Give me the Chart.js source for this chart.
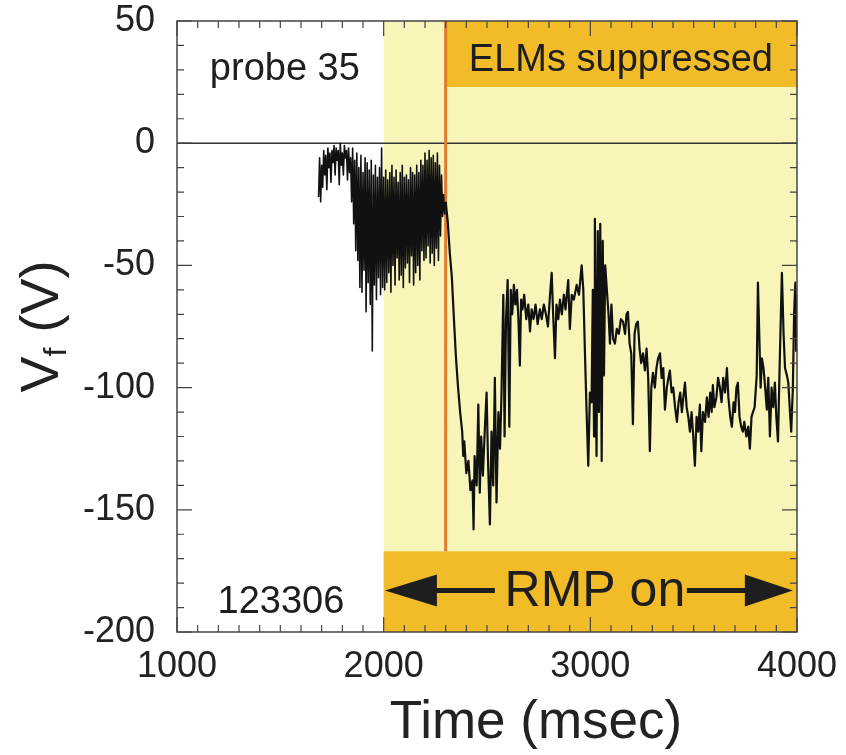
<!DOCTYPE html>
<html>
<head>
<meta charset="utf-8">
<script src="https://cdn.jsdelivr.net/npm/chart.js@4/dist/chart.umd.min.js"></script>
<style>
  body { margin: 0; background: #fff; }
  canvas { display: block; }
</style>
</head>
<body>
<canvas id="vfChart" width="846" height="755"></canvas>
<script>
// Floating potential of probe 35, shot 123306
const times = [
  1685, 1690, 1695, 1700, 1705, 1710, 1715, 1720, 1725, 1730, 1735, 1740, 1745, 1750, 1755, 1760,
  1765, 1770, 1775, 1780, 1785, 1790, 1795, 1800, 1805, 1810, 1815, 1820, 1825, 1830, 1835, 1840,
  1845, 1850, 1855, 1860, 1865, 1870, 1875, 1880, 1885, 1890, 1895, 1900, 1905, 1910, 1915, 1920,
  1925, 1930, 1935, 1940, 1945, 1950, 1955, 1960, 1965, 1970, 1975, 1980, 1985, 1990, 1995, 2000,
  2005, 2010, 2015, 2020, 2025, 2030, 2035, 2040, 2045, 2050, 2055, 2060, 2065, 2070, 2075, 2080,
  2085, 2090, 2095, 2100, 2105, 2110, 2115, 2120, 2125, 2130, 2135, 2140, 2145, 2150, 2155, 2160,
  2165, 2170, 2175, 2180, 2185, 2190, 2195, 2200, 2205, 2210, 2215, 2220, 2225, 2230, 2235, 2240,
  2245, 2250, 2255, 2260, 2265, 2270, 2275, 2280, 2285, 2290, 2295, 2300,
  2310, 2320, 2330, 2340, 2350, 2360, 2370, 2380, 2385, 2390, 2400, 2410, 2420, 2430, 2435, 2440,
  2450, 2458, 2465, 2472, 2480, 2490, 2498, 2505, 2514, 2522, 2530, 2538, 2546, 2555, 2563, 2570,
  2579, 2585, 2592, 2600, 2608, 2615, 2622, 2630, 2637, 2645, 2652, 2659, 2665, 2672, 2680, 2690,
  2700, 2708, 2716, 2725, 2735, 2745, 2756, 2765, 2775, 2785, 2795, 2805, 2813, 2820, 2829, 2836,
  2845, 2853, 2862, 2872, 2880, 2893, 2901, 2910, 2920, 2934, 2945, 2958, 2966, 2974, 2982, 2990,
  2998, 3006, 3012, 3018, 3022, 3030, 3036, 3042, 3048, 3055, 3060, 3066, 3072, 3080, 3088, 3095,
  3102, 3110, 3119, 3128, 3138, 3148, 3158, 3168, 3175, 3182, 3190, 3198, 3206, 3214, 3222, 3230,
  3238, 3246, 3255, 3264, 3272, 3280, 3288, 3295, 3303, 3312, 3320, 3328, 3337, 3345, 3353, 3361,
  3370, 3378, 3385, 3393, 3401, 3410, 3419, 3427, 3435, 3443, 3450, 3458, 3466, 3474, 3482, 3490,
  3498, 3506, 3514, 3522, 3530, 3537, 3545, 3555, 3564, 3572, 3580, 3587, 3593, 3600, 3610, 3618,
  3627, 3635, 3643, 3652, 3661, 3668, 3677, 3685, 3693, 3700, 3707, 3714, 3722, 3730, 3738, 3745,
  3755, 3764, 3772, 3780, 3787, 3795, 3805, 3811, 3818, 3824, 3830, 3838, 3846, 3854, 3861, 3869,
  3877, 3885, 3893, 3900, 3908, 3915, 3922, 3927, 3935, 3942, 3951, 3958, 3966, 3972, 3980, 3986,
  3992, 3996, 4000
];
const vf = [
  -22, -6, -24, -9, -18, -3, -13, -5, -19, -2, -10, -4, -16, -3, -8, -1,
  -13, -2, -7, -3, -17, 0, -9, -4, -13, -1, -6, -3, -15, -2, -12, -6,
  -24, -2, -33, -7, -44, -4, -48, -10, -59, -5, -61, -12, -52, -6, -69, -8,
  -57, -11, -66, -7, -85, -13, -58, -9, -64, -14, -55, -10, -62, -2, -59, -14,
  -60, -11, -57, -15, -53, -12, -61, -9, -50, -14, -58, -11, -47, -16, -56, -12,
  -54, -9, -59, -14, -51, -13, -49, -15, -57, -10, -46, -12, -58, -13, -53, -9,
  -50, -12, -56, -7, -44, -9, -48, -4, -47, -7, -42, -3, -49, -6, -45, -5,
  -50, -8, -43, -4, -48, -9, -38, -13, -30, -21, -29, -24,
  -32, -45, -55, -72, -88, -100, -110, -118, -128, -122, -135, -130, -142, -138, -158, -128,
  -140, -107, -143, -120, -136, -116, -102, -130, -156, -118, -140, -96, -147, -110, -125, -103,
  -62, -120, -72, -56, -116, -60, -70, -58, -66, -60, -72, -91, -64, -68, -62, -72,
  -66, -77, -68, -72, -66, -74, -68, -72, -66, -70, -75, -62, -53, -70, -88, -66,
  -72, -64, -70, -62, -68, -56, -76, -62, -64, -58, -62, -50, -60, -86, -110, -132,
  -102, -106, -60, -120, -31, -128, -36, -110, -33, -130, -40, -95, -50, -60, -70, -82,
  -66, -80, -82, -76, -78, -72, -73, -78, -70, -69, -82, -86, -115, -78, -74, -73,
  -84, -90, -86, -93, -84, -96, -126, -100, -94, -100, -92, -88, -86, -96, -92, -109,
  -100, -96, -93, -102, -100, -108, -114, -106, -102, -110, -104, -98, -108, -112, -118, -110,
  -120, -132, -112, -118, -107, -126, -110, -114, -104, -112, -102, -110, -99, -108, -104, -96,
  -100, -106, -96, -102, -92, -104, -112, -116, -106, -110, -100, -98, -112, -116, -118, -114,
  -120, -116, -125, -112, -110, -108, -95, -57, -80, -100, -88, -92, -100, -109, -96, -120,
  -100, -108, -98, -112, -122, -95, -70, -53, -78, -92, -95, -98, -110, -118, -100, -70,
  -57, -85, -62
];

// axis major ticks
const xTicks = [1000, 2000, 3000, 4000];
const yTicks = [-200, -150, -100, -50, 0, 50];

// shaded periods and annotation boxes
const rmpStart = 2000;
const rmpEnd = 4000;
const elmStart = 2300;
const elmBoxBottom = 23;   // V, lower edge of the "ELMs suppressed" box
const rmpBoxTop = -167;    // V, upper edge of the "RMP on" box

const FONT = "'Liberation Sans', Arial, Helvetica, sans-serif";
Chart.defaults.font.family = FONT;
Chart.defaults.color = '#1e1e1e';

const decorations = {
  id: 'decorations',
  beforeDatasetsDraw(chart) {
    const { ctx, chartArea: a, scales: { x, y } } = chart;
    const x0 = x.getPixelForValue(rmpStart), x1 = x.getPixelForValue(rmpEnd);
    const xe = x.getPixelForValue(elmStart);
    ctx.save();
    // RMP period
    ctx.fillStyle = '#f8f5b9';
    ctx.fillRect(x0, a.top, x1 - x0, a.height);
    // ELMs suppressed box
    ctx.fillStyle = '#f2bb28';
    ctx.fillRect(xe, a.top, x1 - xe, y.getPixelForValue(elmBoxBottom) - a.top);
    // RMP on box
    const yr = y.getPixelForValue(rmpBoxTop);
    ctx.fillRect(x0, yr, x1 - x0, a.bottom - yr);
    // zero line
    ctx.strokeStyle = '#333';
    ctx.lineWidth = 1.5;
    ctx.beginPath();
    ctx.moveTo(a.left, y.getPixelForValue(0));
    ctx.lineTo(a.right, y.getPixelForValue(0));
    ctx.stroke();
    // onset of ELM suppression
    ctx.strokeStyle = '#e07a2e';
    ctx.lineWidth = 3;
    ctx.beginPath();
    ctx.moveTo(xe, a.top);
    ctx.lineTo(xe, yr);
    ctx.stroke();
    ctx.restore();
  },
  afterDraw(chart) {
    const { ctx, chartArea: a, scales: { x, y } } = chart;
    ctx.save();
    ctx.fillStyle = '#1e1e1e';
    ctx.textAlign = 'center';
    ctx.textBaseline = 'middle';
    ctx.font = '38px ' + FONT;
    ctx.fillText('probe 35', x.getPixelForValue(1522), y.getPixelForValue(30));
    ctx.fillText('123306', x.getPixelForValue(1503), y.getPixelForValue(-188));
    ctx.fillText('ELMs suppressed', x.getPixelForValue(3148), y.getPixelForValue(34));
    ctx.font = '50px ' + FONT;
    const ya = y.getPixelForValue(-183);
    ctx.fillText('RMP on', x.getPixelForValue(3022), ya + 2);

    // arrows
    const lx = x.getPixelForValue(2006), lEnd = x.getPixelForValue(2538);
    const rx = x.getPixelForValue(3980), rStart = x.getPixelForValue(3467);
    ctx.strokeStyle = '#1e1e1e';
    ctx.lineWidth = 5;
    ctx.beginPath();
    ctx.moveTo(lx + 40, ya); ctx.lineTo(lEnd, ya);
    ctx.moveTo(rStart, ya); ctx.lineTo(rx - 40, ya);
    ctx.stroke();
    ctx.beginPath();
    ctx.moveTo(lx, ya); ctx.lineTo(lx + 52, ya - 16); ctx.lineTo(lx + 52, ya + 16); ctx.closePath();
    ctx.moveTo(rx, ya); ctx.lineTo(rx - 48, ya - 16); ctx.lineTo(rx - 48, ya + 16); ctx.closePath();
    ctx.fill();

    // frame with inward ticks on all sides
    ctx.strokeStyle = '#444';
    ctx.lineWidth = 1.5;
    ctx.strokeRect(a.left, a.top, a.width, a.height);
    ctx.lineWidth = 1.2;
    ctx.beginPath();
    for (let t = 1000; t <= 4000; t += 100) {
      const px = x.getPixelForValue(t);
      const len = t % 1000 === 0 ? 15 : 7;
      ctx.moveTo(px, a.bottom); ctx.lineTo(px, a.bottom - len);
      ctx.moveTo(px, a.top); ctx.lineTo(px, a.top + len);
    }
    for (let v = -200; v <= 50; v += 10) {
      const py = y.getPixelForValue(v);
      const len = v % 50 === 0 ? 15 : 7;
      ctx.moveTo(a.left, py); ctx.lineTo(a.left + len, py);
      ctx.moveTo(a.right, py); ctx.lineTo(a.right - len, py);
    }
    ctx.stroke();

    // x-axis title
    ctx.fillStyle = '#222';
    ctx.font = '53px ' + FONT;
    ctx.textAlign = 'center';
    ctx.textBaseline = 'alphabetic';
    ctx.fillText('Time (msec)', 536, 738);

    // y-axis title with subscript
    ctx.translate(38, (a.top + a.bottom) / 2);
    ctx.rotate(-Math.PI / 2);
    ctx.textAlign = 'left';
    const big = '54px ' + FONT, small = '32px ' + FONT;
    ctx.font = big;
    const wV = ctx.measureText('V').width;
    ctx.font = small;
    const wf = ctx.measureText('f').width;
    ctx.font = big;
    const wRest = ctx.measureText(' (V)').width;
    let cx = -(wV + wf + wRest) / 2;
    ctx.fillText('V', cx, 20);
    cx += wV;
    ctx.font = small;
    ctx.fillText('f', cx, 28);
    cx += wf;
    ctx.font = big;
    ctx.fillText(' (V)', cx, 20);
    ctx.restore();
  }
};

new Chart(document.getElementById('vfChart').getContext('2d'), {
  type: 'line',
  data: {
    datasets: [{
      data: times.map((t, i) => ({ x: t, y: vf[i] })),
      borderColor: '#111',
      borderWidth: 2.2,
      // the dense ELMy part before suppression is drawn with a finer pen
      segment: { borderWidth: c => (c.p0.parsed.x < elmStart ? 1.6 : 2.2) },
      borderJoinStyle: 'round',
      pointRadius: 0,
      tension: 0,
      fill: false
    }]
  },
  options: {
    responsive: false,
    animation: false,
    layout: { padding: { top: 21, right: 49, left: 0, bottom: 0 } },
    plugins: { legend: { display: false }, tooltip: { enabled: false } },
    scales: {
      x: {
        type: 'linear',
        min: 1000,
        max: 4000,
        afterBuildTicks: s => { s.ticks = xTicks.map(v => ({ value: v })); },
        afterFit: s => { s.height = 123; s.paddingLeft = 0; s.paddingRight = 0; },
        grid: { display: false, drawTicks: false },
        border: { display: false },
        ticks: { font: { size: 36 }, padding: 13, maxRotation: 0, color: '#222', callback: v => String(v) }
      },
      y: {
        min: -200,
        max: 50,
        afterBuildTicks: s => { s.ticks = yTicks.map(v => ({ value: v })); },
        afterFit: s => { s.width = 177; s.paddingTop = 0; s.paddingBottom = 0; },
        grid: { display: false, drawTicks: false },
        border: { display: false },
        ticks: { font: { size: 36 }, padding: 22, color: '#222', callback: v => String(v) }
      }
    }
  },
  plugins: [decorations]
});
</script>
</body>
</html>
